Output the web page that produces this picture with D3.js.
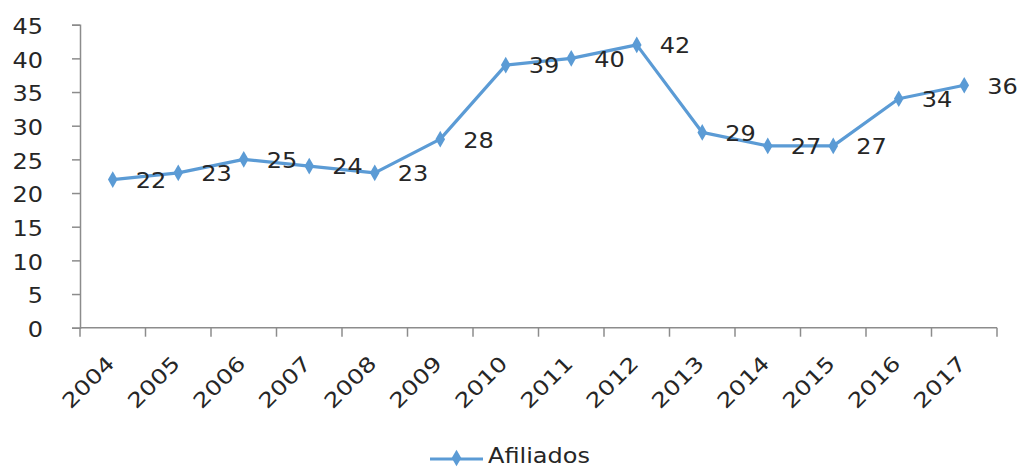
<!DOCTYPE html>
<html><head><meta charset="utf-8">
<script src="https://cdn.jsdelivr.net/npm/d3@7"></script>
<style>
html,body{margin:0;padding:0;background:#fff;}
text{font-family:"DejaVu Sans",Verdana,sans-serif;fill:#262626;}
</style></head>
<body>
<svg id="chart" width="1021" height="468"></svg>
<script>
const years = ["2004","2005","2006","2007","2008","2009","2010","2011","2012","2013","2014","2015","2016","2017"];
const afiliados = [22,23,25,24,23,28,39,40,42,29,27,27,34,36];
const yTicks = [0,5,10,15,20,25,30,35,40,45];
const seriesName = "Afiliados";

const color = "#5B9BD5";
const axisColor = "#8c8c8c";
const fs = 20.5, sx = 1.17, sxr = 1.22;

const svg = d3.select("#chart");
const x = d3.scaleBand().domain(years).range([80, 997]);
const y = d3.scaleLinear().domain([0,45]).range([327.7, 24.7]);

// Y axis
const gy = svg.append("g").attr("transform","translate(80,0)")
  .call(d3.axisLeft(y).tickValues(yTicks).tickSize(8).tickPadding(0));
gy.select(".domain").attr("stroke",axisColor).attr("stroke-width",1.5);
gy.selectAll(".tick line").attr("stroke",axisColor).attr("stroke-width",1.5);
gy.selectAll(".tick text")
  .attr("x",null).attr("dy",null)
  .attr("dominant-baseline","central")
  .attr("text-anchor","end")
  .attr("transform","translate(-37,1.5) scale("+sx+",1)")
  .style("font-size",fs+"px").style("font-family","DejaVu Sans").attr("fill","#262626");

// X axis with ticks at band boundaries
const gx = svg.append("g").attr("transform","translate(0,327.7)");
gx.append("line").attr("x1",80).attr("x2",997).attr("y1",0).attr("y2",0)
  .attr("stroke",axisColor).attr("stroke-width",1.5);
const bounds = years.map(d=>x(d)).concat([x(years[years.length-1])+x.bandwidth()]);
gx.selectAll("line.tk").data(bounds).join("line").attr("class","tk")
  .attr("x1",d=>d).attr("x2",d=>d).attr("y1",0).attr("y2",9)
  .attr("stroke",axisColor).attr("stroke-width",1.5);
gx.selectAll("text.xl").data(years).join("text").attr("class","xl")
  .attr("text-anchor","end")
  .attr("dominant-baseline","central")
  .attr("transform",d=>"translate("+(x(d)+x.bandwidth()/2-2)+",32) rotate(-45) scale("+sxr+",1)")
  .style("font-size",fs+"px")
  .text(d=>d);

// Line
const cx = d=>x(d)+x.bandwidth()/2;
const line = d3.line().x((d,i)=>cx(years[i])).y(d=>y(d));
svg.append("path").datum(afiliados).attr("d",line)
  .attr("fill","none").attr("stroke",color).attr("stroke-width",3.2).attr("stroke-linejoin","round");

const diamond = d3.symbol().type(d3.symbolDiamond).size(80);
svg.selectAll("path.mk").data(afiliados).join("path").attr("class","mk")
  .attr("d",diamond)
  .attr("transform",(d,i)=>"translate("+cx(years[i])+","+y(d)+")")
  .attr("fill",color);

// Data labels
svg.selectAll("text.dl").data(afiliados).join("text").attr("class","dl")
  .attr("dominant-baseline","central")
  .attr("transform",(d,i)=>"translate("+(cx(years[i])+23)+","+(y(d)+1)+") scale("+sx+",1)")
  .style("font-size",fs+"px")
  .text(d=>d);

// Legend
const lg = svg.append("g");
lg.append("line").attr("x1",430).attr("x2",483).attr("y1",459).attr("y2",459)
  .attr("stroke",color).attr("stroke-width",3.2);
lg.append("path").attr("d",diamond).attr("transform","translate(456.5,458)").attr("fill",color);
lg.append("text")
  .attr("transform","translate(488,463) scale("+sx+",1)")
  .style("font-size",fs+"px").text(seriesName);
</script>
</body></html>
